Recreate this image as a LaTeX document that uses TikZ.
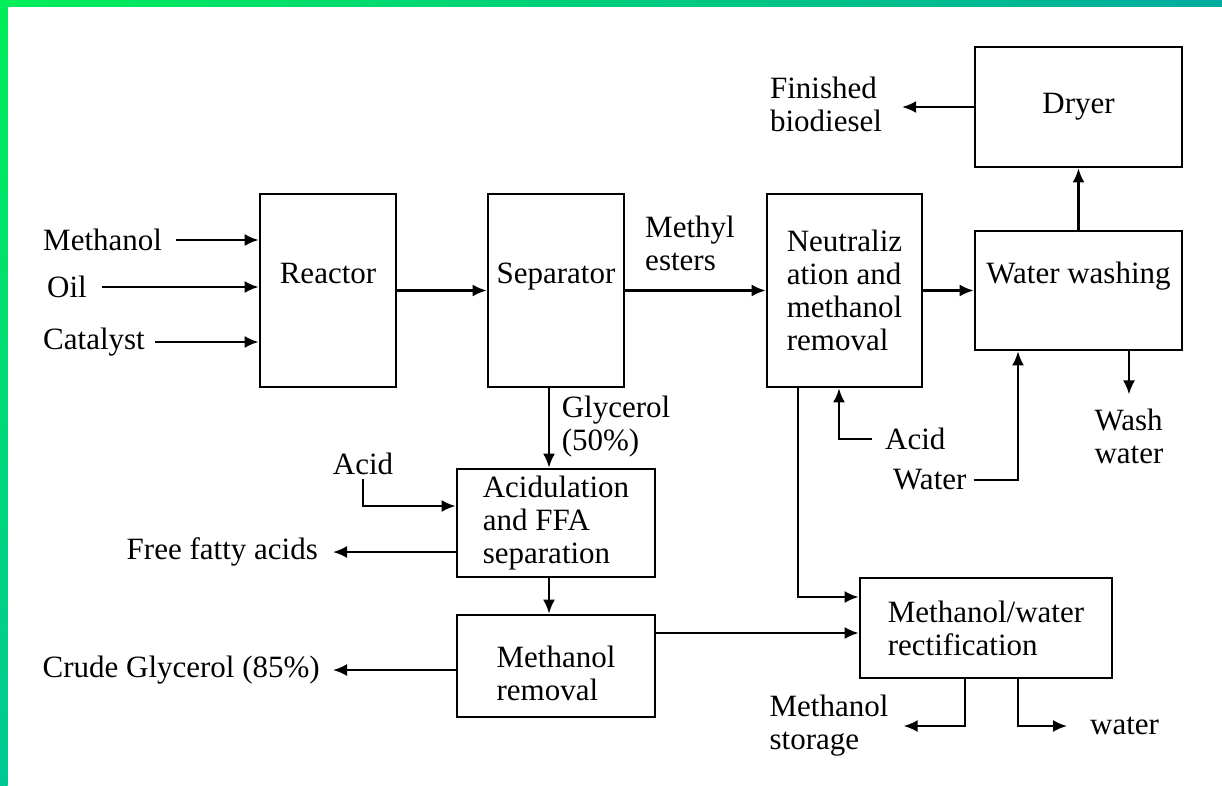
\documentclass[tikz,border=0pt]{standalone}
\usepackage{fontspec}
\setmainfont{Liberation Serif}
\usetikzlibrary{arrows.meta}
\definecolor{framegreen}{RGB}{0,238,88}
\definecolor{frameteal}{RGB}{0,172,160}
\definecolor{framemint}{RGB}{0,200,148}
\tikzset{
	unit/.style={draw, line width=2.8pt, inner sep=0pt},
	tall/.style={unit, minimum width=136pt, minimum height=193pt, text depth=35pt},
	flow/.style={line width=2.1pt, -{Latex[length=14pt,width=12pt]}},
	tag/.style={inner sep=0pt, align=left},
}
\begin{document}
\begin{tikzpicture}[x=1pt, y=-1pt, font=\fontsize{31}{33}\selectfont]
		\useasboundingbox (0,0) rectangle (1222,785);
		\fill[white] (0,0) rectangle (1222,785);
		\shade[left color=framegreen, right color=frameteal] (0,0) rectangle (1222,6);
		\shade[top color=framegreen, bottom color=framemint] (0,0) rectangle (7.5,785);

		\node[tall] (reactor) at (328,290.5) {Reactor};
		\node[tall] (separator) at (556,290.5) {Separator};
		\node[unit, minimum width=155pt, minimum height=193pt, align=left] (neutral) at (844.5,290.5) {Neutraliz\\ation and\\methanol\\removal};
		\node[unit, minimum width=207pt, minimum height=119pt, text depth=35pt] (washing) at (1078.5,290.5) {Water washing};
		\node[unit, minimum width=207pt, minimum height=120pt] (dryer) at (1078.5,107) {Dryer};
		\node[unit, minimum width=198pt, minimum height=108pt, align=left] (acidul) at (556,523) {Acidulation\\and FFA\\separation};
		\node[unit, minimum width=198pt, minimum height=102pt, align=left, text height=70pt] (mremoval) at (556,666) {Methanol\\removal};
		\node[unit, minimum width=252pt, minimum height=100pt, align=left] (rectif) at (986,628) {Methanol/water\\rectification};

		\node[tag, anchor=west] (methanolin) at (43,240) {Methanol};
		\node[tag, anchor=west] (oilin) at (47,287) {Oil};
		\node[tag, anchor=west] (catalystin) at (43,342) {Catalyst};
		\node[tag] (esters) at (690,243) {Methyl\\esters};
		\node[tag] (finished) at (826,104) {Finished\\biodiesel};
		\node[tag] (washwater) at (1129,436) {Wash\\water};
		\node[tag, anchor=west] (waterin) at (893,480) {Water};
		\node[tag, anchor=west] (acidn) at (885,439) {Acid};
		\node[tag] (glycerol) at (616,427) {Glycerol\\(50\%)};
		\node[tag] (acida) at (363,464) {Acid};
		\node[tag, anchor=east] (ffa) at (318,552) {Free fatty acids};
		\node[tag, anchor=east] (crude) at (320,670) {Crude Glycerol (85\%)};
		\node[tag] (mstorage) at (829,726) {Methanol\\storage};
		\node[tag, anchor=west] (waterout) at (1090,726) {water};

		\draw[flow] ([xshift=14pt]methanolin.east) -- (methanolin -| reactor.west);
		\draw[flow] ([xshift=15pt]oilin.east) -- (oilin -| reactor.west);
		\draw[flow] ([xshift=10pt]catalystin.east) -- (catalystin -| reactor.west);
		\path (reactor) edge[flow] (separator);
		\path (separator) edge[flow] (neutral);
		\path (neutral) edge[flow] (washing);
		\path (washing) edge[flow] (dryer);
		\draw[flow] (dryer.west) -- ([xshift=20pt]finished.east |- dryer.west);
		\draw[flow] (washing.south -| washwater) -- ([yshift=14pt]washwater.north);
		\draw[flow] ([xshift=7pt]waterin.east) -| ([xshift=-60.5pt]washing.south);
		\draw[flow] ([xshift=-13pt]acidn.west) -| ([xshift=-5.5pt]neutral.south);
		\draw[flow] ([xshift=-46.5pt]neutral.south) |- ([yshift=31pt]rectif.west);
		\draw[flow] ([xshift=-7pt]separator.south) -- ([xshift=-7pt]acidul.north);
		\draw[flow] ([yshift=-4pt]acida.south) |- ([yshift=17pt]acidul.west);
		\draw[flow] ([yshift=-29pt]acidul.west) -- ([xshift=15pt]ffa.east);
		\draw[flow] ([xshift=-7pt]acidul.south) -- ([xshift=-7pt]mremoval.north);
		\draw[flow] ([yshift=-4pt]mremoval.west) -- ([xshift=13pt]crude.east);
		\draw[flow] ([yshift=33pt]mremoval.east) -- ([yshift=33pt]mremoval.east -| rectif.west);
		\draw[flow] ([xshift=-21pt]rectif.south) |- ([xshift=15pt]mstorage.east);
		\draw[flow] ([xshift=32pt]rectif.south) |- ([xshift=-23pt]waterout.west);
	\end{tikzpicture}
\end{document}
